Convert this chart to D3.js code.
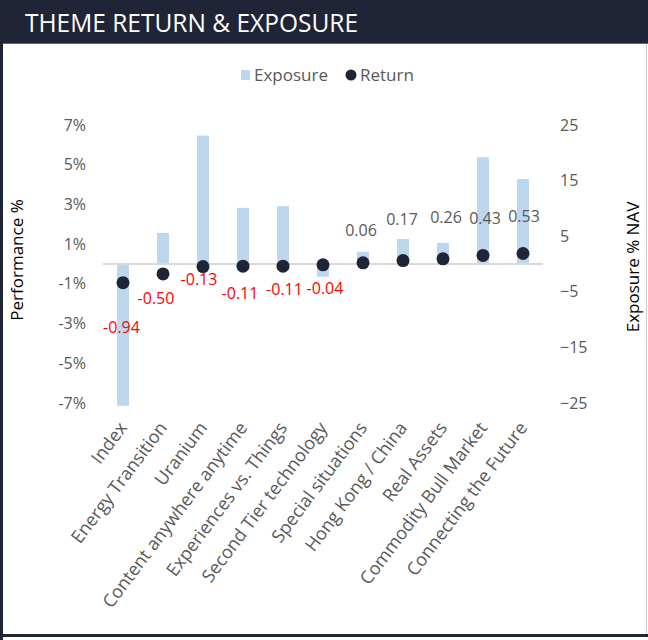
<!DOCTYPE html>
<html>
<head>
<meta charset="utf-8">
<script src="https://cdn.jsdelivr.net/npm/d3@7"></script>
<style>
  html, body { margin: 0; padding: 0; background: #ffffff; }
  svg { display: block; }
  text { font-family: "Open Sans", "Noto Sans", sans-serif; }
</style>
</head>
<body>
<svg id="chart" width="648" height="640"></svg>
<script>
// ---- data ----
const categories = ["Index", "Energy Transition", "Uranium", "Content anywhere anytime",
  "Experiences vs. Things", "Second Tier technology", "Special situations",
  "Hong Kong / China", "Real Assets", "Commodity Bull Market", "Connecting the Future"];
const exposure = [-25.5, 5.6, 23.1, 10.1, 10.4, -2.3, 2.2, 4.5, 3.8, 19.2, 15.3];
const returns = [-0.94, -0.50, -0.13, -0.11, -0.11, -0.04, 0.06, 0.17, 0.26, 0.43, 0.53];
const returnLabels = ["-0.94", "-0.50", "-0.13", "-0.11", "-0.11", "-0.04", "0.06", "0.17", "0.26", "0.43", "0.53"];
const leftTicks = [-7, -5, -3, -1, 1, 3, 5, 7];
const rightTicks = [-25, -15, -5, 5, 15, 25];
const title = "THEME RETURN & EXPOSURE";
const seriesNames = ["Exposure", "Return"];
const axisTitles = ["Performance %", "Exposure % NAV"];

// ---- layout ----
const svg = d3.select("#chart");
const W = 648, H = 640;
const plot = { left: 103, right: 543, top: 125, bottom: 403 };
const navy = "#1f2437";
const barColor = "#bdd7ee";
const tickColor = "#595959";

// manual label nudges (pixels, relative to the dot)
const labelDx = [-1.5, -7, -4, -3, 1.5, 2, -2, -1, 3, 2, 1];
const labelDy = [45, 24, 13, 27, 23, 24, -32, -41, -41, -37, -37];

// frame & title bar
svg.append("rect").attr("x", 0).attr("y", 0).attr("width", W).attr("height", H).attr("fill", "#fff");
svg.append("rect").attr("x", 0).attr("y", 0).attr("width", W).attr("height", 43).attr("fill", navy);
svg.append("line").attr("x1", 0).attr("x2", W).attr("y1", 43.5).attr("y2", 43.5)
  .attr("stroke", "#5d6373").attr("stroke-width", 1);
svg.append("rect").attr("x", 0).attr("y", 43).attr("width", 3).attr("height", H - 43).attr("fill", navy);
svg.append("rect").attr("x", 0).attr("y", 634).attr("width", W).attr("height", 3).attr("fill", navy);
svg.append("line").attr("x1", 646.5).attr("x2", 646.5).attr("y1", 44).attr("y2", 634)
  .attr("stroke", "#c8cbd2").attr("stroke-width", 1);

svg.append("text").attr("x", 25).attr("y", 32).text(title)
  .attr("fill", "#ffffff").attr("font-size", 26).attr("textLength", 333)
  .attr("lengthAdjust", "spacingAndGlyphs");

// scales
const x = d3.scaleBand().domain(categories).range([plot.left, plot.right])
  .paddingInner(0.7).paddingOuter(0.35);
const yL = d3.scaleLinear().domain([-7, 7]).range([plot.bottom, plot.top]);
const yR = d3.scaleLinear().domain([-25, 25]).range([plot.bottom, plot.top]);

// left axis
const axL = svg.append("g").attr("transform", `translate(${plot.left - 17},0)`)
  .call(d3.axisLeft(yL).tickValues(leftTicks).tickSize(0).tickPadding(0)
    .tickFormat(d => d + "%"));
axL.select(".domain").remove();
axL.selectAll("text").attr("fill", tickColor).attr("font-size", 16)
  .attr("font-family", "'Open Sans', sans-serif");

// right axis
const axR = svg.append("g").attr("transform", `translate(${plot.right + 17},0)`)
  .call(d3.axisRight(yR).tickValues(rightTicks).tickSize(0).tickPadding(0)
    .tickFormat(d3.format("d")));
axR.select(".domain").remove();
axR.selectAll("text").attr("fill", tickColor).attr("font-size", 16)
  .attr("font-family", "'Open Sans', sans-serif");

// bars
svg.append("g").selectAll("rect").data(categories).join("rect")
  .attr("x", d => x(d))
  .attr("width", x.bandwidth())
  .attr("y", (d, i) => Math.min(yR(exposure[i]), yR(0)))
  .attr("height", (d, i) => Math.abs(yR(exposure[i]) - yR(0)))
  .attr("fill", barColor);

// zero line
svg.append("line").attr("x1", plot.left).attr("x2", plot.right)
  .attr("y1", yL(0)).attr("y2", yL(0))
  .attr("stroke", "#d9d9d9").attr("stroke-width", 2);

// dots
svg.append("g").selectAll("circle").data(categories).join("circle")
  .attr("cx", d => x(d) + x.bandwidth() / 2)
  .attr("cy", (d, i) => yL(returns[i]))
  .attr("r", 6.5)
  .attr("fill", navy);

// data labels
svg.append("g").selectAll("text").data(categories).join("text")
  .attr("x", (d, i) => x(d) + x.bandwidth() / 2 + labelDx[i])
  .attr("y", (d, i) => yL(returns[i]) + labelDy[i])
  .attr("dy", "0.35em")
  .attr("text-anchor", "middle")
  .attr("font-size", 16)
  .attr("fill", (d, i) => returns[i] < 0 ? "#ff0000" : tickColor)
  .text((d, i) => returnLabels[i]);

// category labels
svg.append("g").selectAll("text").data(categories).join("text")
  .attr("transform", d => `translate(${x(d) + x.bandwidth() / 2 + 5},428) rotate(-53)`)
  .attr("text-anchor", "end")
  .attr("font-size", 18)
  .attr("fill", tickColor)
  .text(d => d);

// axis titles
svg.append("text").attr("transform", "translate(23,260) rotate(-90)")
  .attr("text-anchor", "middle").attr("font-size", 17).attr("fill", "#000")
  .text(axisTitles[0]);
svg.append("text").attr("transform", "translate(639,267) rotate(-90)")
  .attr("text-anchor", "middle").attr("font-size", 17).attr("fill", "#000")
  .text(axisTitles[1]);

// legend
const lg = svg.append("g");
lg.append("rect").attr("x", 241).attr("y", 70).attr("width", 9).attr("height", 10).attr("fill", barColor);
lg.append("text").attr("x", 254).attr("y", 81).attr("font-size", 17).attr("fill", tickColor).text(seriesNames[0]);
lg.append("circle").attr("cx", 351).attr("cy", 75).attr("r", 5.5).attr("fill", navy);
lg.append("text").attr("x", 360).attr("y", 81).attr("font-size", 17).attr("fill", tickColor).text(seriesNames[1]);
</script>
</body>
</html>
